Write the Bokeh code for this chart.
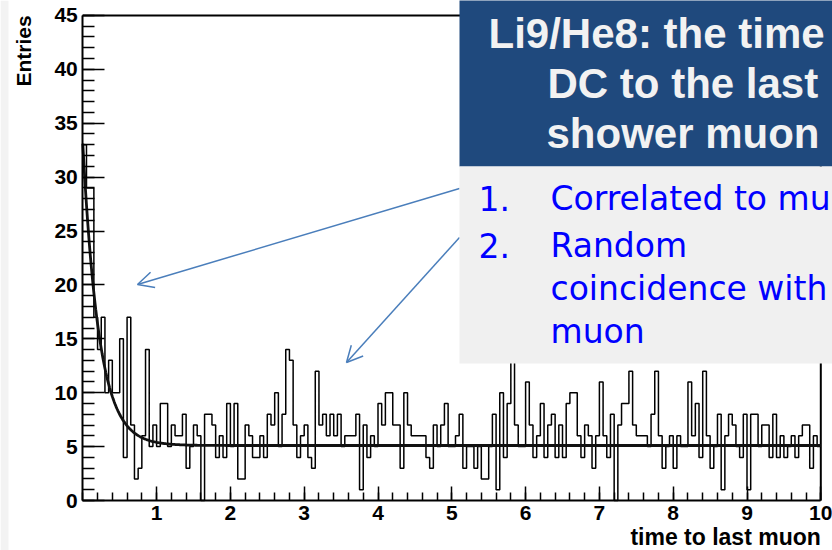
import math
import numpy as np
from bokeh.plotting import figure
from bokeh.models import FixedTicker, Label, BoxAnnotation, Arrow, OpenHead, Range1d
from bokeh.embed import file_html
from bokeh.resources import INLINE

# ---------------- data ----------------
bin_width = 0.05
counts = [
    33, 29, 29, 17, 14, 17, 10, 13, 10, 10,
    15, 4, 17, 7, 2, 3, 6, 14, 5, 7,
    5, 9, 9, 5, 7, 6, 6, 8, 3, 5,
    7, 6, 0, 8, 8, 7, 4, 6, 4, 9,
    5, 9, 2, 2, 7, 6, 4, 4, 6, 4,
    8, 7, 10, 5, 8, 14, 13, 7, 4, 6,
    7, 4, 3, 12, 7, 8, 6, 8, 6, 8,
    5, 6, 6, 6, 8, 1, 7, 4, 6, 5,
    9, 7, 10, 10, 7, 7, 3, 10, 7, 6,
    6, 6, 6, 4, 3, 7, 5, 7, 9, 5,
    5, 6, 8, 3, 5, 5, 3, 5, 2, 2,
    5, 8, 1, 10, 4, 9, 15, 7, 5, 5,
    11, 7, 4, 6, 9, 4, 7, 8, 4, 7,
    4, 9, 10, 10, 6, 4, 7, 6, 3, 6,
    11, 6, 4, 8, 0, 7, 9, 9, 12, 7,
    6, 6, 6, 5, 8, 12, 6, 3, 5, 6,
    3, 6, 5, 5, 11, 6, 9, 4, 12, 6,
    3, 5, 8, 1, 6, 8, 7, 5, 4, 8,
    1, 8, 8, 5, 7, 7, 4, 8, 4, 6,
    4, 5, 6, 4, 6, 7, 7, 3, 6, 5,
]
# fitted function: const + amp * exp(-t / tau)
fit_amp = 28.0
fit_tau = 0.22
fit_const = 5.1

x_limits = (0, 10)
y_limits = (0, 45)
x_major_ticks = [1, 2, 3, 4, 5, 6, 7, 8, 9, 10]
x_minor_ticks = [round(0.2 * i, 1) for i in range(51)]
y_major_ticks = [0, 5, 10, 15, 20, 25, 30, 35, 40, 45]
y_minor_ticks = list(range(46))

x_title = "time to last muon"
y_title = "Entries"
box_title_lines = ["Li9/He8: the time", "DC to the last", "shower muon"]
box_items = ["1.", "2."]
box_item_lines = ["Correlated to mu", "Random", "coincidence with", "muon"]

# ---------------- figure ----------------
W, H = 832, 550
X0_PX, Y0_PX = 82.3, 500.0          # pixel position of the data origin
PX_X, PX_Y = 73.8, 10.78            # pixels per data unit
x_range = Range1d(-X0_PX / PX_X, (W - X0_PX) / PX_X)
y_range = Range1d(-(H - Y0_PX) / PX_Y, Y0_PX / PX_Y)

p = figure(width=W, height=H, output_backend="svg", toolbar_location=None,
           x_range=x_range, y_range=y_range,
           min_border_left=0, min_border_right=0, min_border_top=0, min_border_bottom=0)
p.grid.visible = False
p.background_fill_color = "white"
p.border_fill_color = "white"
p.outline_line_color = None

ROOT_FONT = "Liberation Sans"

p.xaxis.ticker = FixedTicker(ticks=x_major_ticks, minor_ticks=x_minor_ticks)
p.yaxis.ticker = FixedTicker(ticks=y_major_ticks, minor_ticks=y_minor_ticks)
p.xaxis.fixed_location = y_limits[0]
p.yaxis.fixed_location = x_limits[0]
p.xaxis.bounds = x_limits
p.yaxis.bounds = y_limits
for ax in (p.xaxis, p.yaxis):
    ax.axis_line_color = "black"
    ax.axis_line_width = 2
    ax.major_tick_line_color = "black"
    ax.minor_tick_line_color = "black"
    ax.major_tick_line_width = 1.5
    ax.minor_tick_line_width = 1.5
    ax.major_tick_out = 0
    ax.minor_tick_out = 0
    ax.major_label_text_font = ROOT_FONT
    ax.major_label_text_font_style = "bold"
    ax.major_label_text_font_size = "21px"
    ax.major_label_text_color = "black"
    ax.major_label_standoff = 5
p.xaxis.major_tick_in = 14
p.xaxis.minor_tick_in = 8
p.yaxis.major_tick_in = 22
p.yaxis.minor_tick_in = 12

def sx(px):
    return (px - X0_PX) / PX_X

def sy(py):
    return (Y0_PX - py) / PX_Y

# light strip at the left edge of the slide
p.add_layout(BoxAnnotation(right=sx(8), fill_color="#F3F3F3", fill_alpha=1.0,
                           line_alpha=0, level="underlay"))

# ROOT frame: top and right edges
p.segment(x0=[x_limits[0], x_limits[1]], y0=[y_limits[1], y_limits[0]],
          x1=[x_limits[1], x_limits[1]], y1=[y_limits[1], y_limits[1]],
          line_color="black", line_width=2)

# histogram (step line)
edges = [i * bin_width for i in range(len(counts) + 1)]
p.step(edges, counts + [counts[-1]], mode="after", line_color="black", line_width=1.5)

# fit curve
xf = np.linspace(x_limits[0], x_limits[1], 800)
yf = fit_const + fit_amp * np.exp(-xf / fit_tau)
p.line(xf, yf, line_color="#111111", line_width=2.8)

# axis titles (anchor is at the vertical middle of the text)
p.add_layout(Label(x=sx(23), y=y_limits[1], text=y_title, angle=math.pi / 2,
                   text_align="right", text_baseline="middle",
                   text_font=ROOT_FONT, text_font_style="bold", text_font_size="21px",
                   text_color="black"))
p.add_layout(Label(x=x_limits[1], y=sy(536), text=x_title,
                   text_align="right", text_baseline="middle",
                   text_font=ROOT_FONT, text_font_style="bold", text_font_size="23px",
                   text_color="black"))

# arrows
arrow_color = "#4A7EBB"
p.add_layout(Arrow(end=OpenHead(size=16, line_color=arrow_color, line_width=1.5),
                   x_start=sx(459), y_start=sy(188), x_end=sx(137), y_end=sy(284),
                   line_color=arrow_color, line_width=1.5))
p.add_layout(Arrow(end=OpenHead(size=16, line_color=arrow_color, line_width=1.5),
                   x_start=sx(459), y_start=sy(237), x_end=sx(346), y_end=sy(362),
                   line_color=arrow_color, line_width=1.5))

# overlay boxes
p.add_layout(BoxAnnotation(left=sx(459), right=sx(840), top=sy(-10), bottom=sy(166),
                           fill_color="#1F497D", fill_alpha=1.0, line_alpha=0))
p.add_layout(BoxAnnotation(left=sx(459), right=sx(840), top=sy(166), bottom=sy(363),
                           fill_color="#F0F0F0", fill_alpha=1.0, line_alpha=0))

# text rows: (left x, vertical middle y) in pixels
title_pos = [(488, 33), (547, 83), (546, 133)]
for (tx, ty), t in zip(title_pos, box_title_lines):
    p.add_layout(Label(x=sx(tx), y=sy(ty), text=t, text_align="left", text_baseline="middle",
                       text_font=ROOT_FONT, text_font_style="bold", text_font_size="42px",
                       text_color="#F2F2F2"))

item_font = "DejaVu Sans"
num_pos = [(478, 198), (478, 245)]
for (tx, ty), t in zip(num_pos, box_items):
    p.add_layout(Label(x=sx(tx), y=sy(ty), text=t, text_align="left", text_baseline="middle",
                       text_font=item_font, text_font_size="33px", text_color="#0000FF"))
line_pos = [(550, 198), (550, 245), (550, 288), (550, 331)]
for (tx, ty), t in zip(line_pos, box_item_lines):
    p.add_layout(Label(x=sx(tx), y=sy(ty), text=t, text_align="left", text_baseline="middle",
                       text_font=item_font, text_font_size="33px", text_color="#0000FF"))

open("out.html", "w").write(file_html(p, INLINE))
